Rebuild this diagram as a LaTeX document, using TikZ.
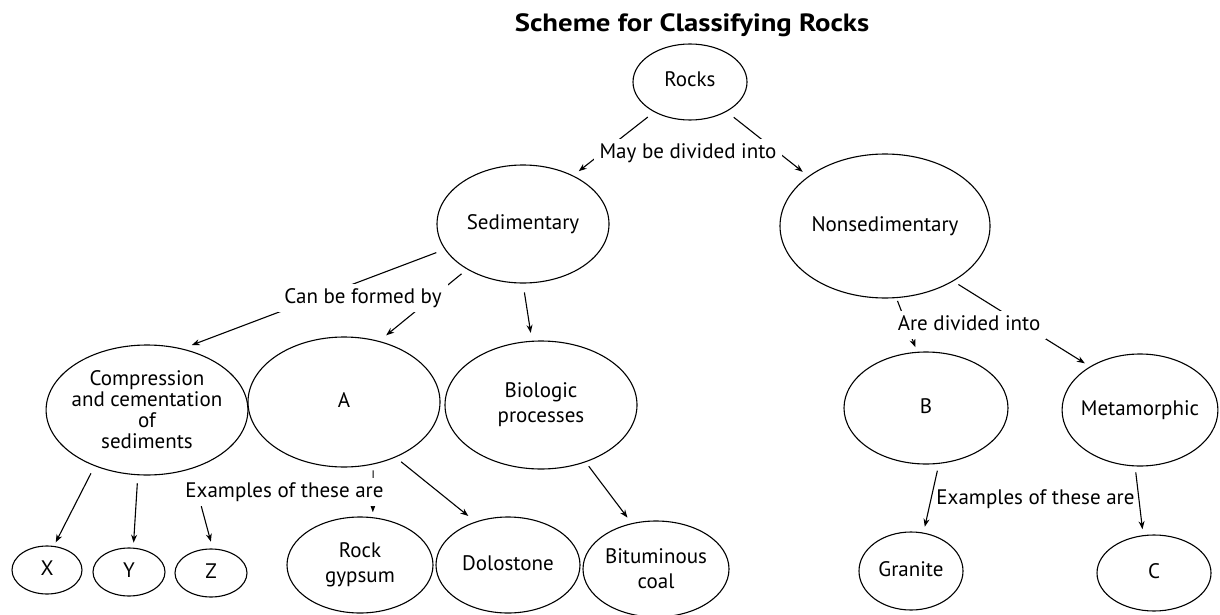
\documentclass[tikz,border=0pt]{standalone}
\usepackage{fontspec}
\setmainfont{PT Sans}
\newfontfamily\titlefont[FakeStretch=1.15]{PT Sans}
\usetikzlibrary{shapes.geometric,arrows.meta,backgrounds}
\begin{document}
\begin{tikzpicture}[x=1pt,y=-1pt,
  ell/.style={draw, ellipse, line width=1.1pt, inner sep=-4pt, align=center, font=\fontsize{21}{25}\selectfont},
  one/.style={text height=15pt, text depth=5pt},
  lbl/.style={anchor=base, inner sep=3pt, font=\fontsize{21}{25}\selectfont, text height=15pt, text depth=5pt},
  wlbl/.style={lbl, fill=white, inner xsep=6pt, inner ysep=4pt},
  conn/.style={line width=1.1pt, -{Stealth[length=8pt,width=6pt]}},
  ]
\useasboundingbox (0,0) rectangle (1220,615);

\node[anchor=base, font=\titlefont\bfseries\fontsize{25}{30}\selectfont] (title) at (692,32) {Scheme for Classifying Rocks};

\node[ell, one, minimum width=114pt, minimum height=76pt] (rocks) at (690,82) {Rocks};
\node[ell, one, minimum width=172pt, minimum height=118pt] (sed) at (523,224) {Sedimentary};
\node[ell, one, minimum width=210pt, minimum height=144pt] (non) at (885,226) {Nonsedimentary};
\node[ell, minimum width=194pt, minimum height=130pt, font=\fontsize{21}{21}\selectfont] (comp) at (147,410) {Compression\\and cementation\\of\\sediments};
\node[ell, one, minimum width=192pt, minimum height=130pt] (A) at (344,402) {A};
\node[ell, minimum width=192pt, minimum height=128pt] (bio) at (541,405) {Biologic\\processes};
\node[ell, one, minimum width=164pt, minimum height=112pt] (B) at (926,408) {B};
\node[ell, one, minimum width=154pt, minimum height=112pt] (meta) at (1140,410) {Metamorphic};
\node[ell, one, minimum width=70pt, minimum height=48pt] (X) at (47,570) {X};
\node[ell, one, minimum width=72pt, minimum height=48pt] (Y) at (129,572) {Y};
\node[ell, one, minimum width=72pt, minimum height=48pt] (Z) at (211,573) {Z};
\node[ell, minimum width=146pt, minimum height=96pt] (gyp) at (360,565) {Rock\\gypsum};
\node[ell, one, minimum width=144pt, minimum height=96pt] (dolo) at (508,565) {Dolostone};
\node[ell, minimum width=146pt, minimum height=96pt] (bit) at (656,569) {Bituminous\\coal};
\node[ell, one, minimum width=104pt, minimum height=78pt] (gran) at (911,571) {Granite};
\node[ell, one, minimum width=114pt, minimum height=76pt] (C) at (1154,573) {C};

\node[wlbl] (may) at (688,158) {May be divided into};
\node[wlbl] (can) at (363,303) {Can be formed by};
\node[wlbl] (exA) at (284.5,497) {Examples of these are};
\node[wlbl] (are) at (969,330) {Are divided into};
\node[lbl] (exB) at (1035.5,504) {Examples of these are};

\begin{pgfonlayer}{background}
\fill[white] (0,0) rectangle (1220,615);
\draw[conn, shorten <=8pt, shorten >=7pt] (rocks.220) -- (sed.44);
\draw[conn, shorten <=9pt, shorten >=7pt] (rocks.321) -- (non.147);
\draw[conn, shorten <=9pt, shorten >=10pt] (sed.198) -- (comp.60);
\draw[conn, shorten <=7pt, shorten >=9pt] (sed.219) -- (A.60);
\draw[conn, shorten <=9pt, shorten >=8pt] (sed.270) -- (bio.98);
\draw[conn, shorten <=8pt, shorten >=4pt] (comp.227) -- (X.74);
\draw[conn, shorten <=8pt, shorten >=5pt] (comp.262) -- (Y.80);
\draw[conn, shorten >=7pt] ([xshift=22pt]exA.south west) -- (Z.86);
\draw[conn, shorten <=6pt, shorten >=5pt] (A.295) -- (gyp.75);
\draw[conn, shorten <=7pt, shorten >=9pt] (A.313) -- (dolo.127);
\draw[conn, shorten <=5pt, shorten >=7pt] (bio.308) -- (bit.118);
\draw[conn, shorten <=3pt, shorten >=5pt] (non.279) -- (B.99);
\draw[conn, shorten <=6pt, shorten >=6pt] (non.321) -- (meta.139);
\draw[conn, shorten <=7pt, shorten >=6pt] (B.283) -- (gran.72);
\draw[conn, shorten <=6pt, shorten >=6pt] (meta.265) -- (C.106);
\end{pgfonlayer}
\end{tikzpicture}
\end{document}
